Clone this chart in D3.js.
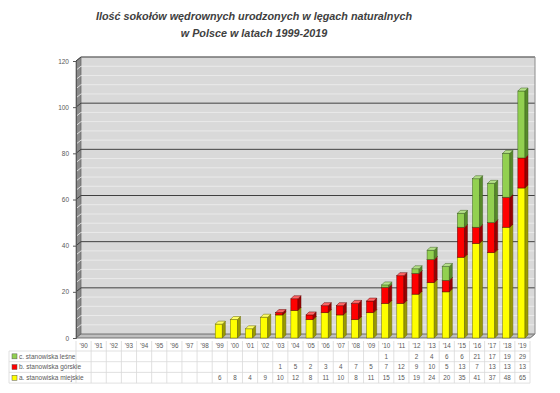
<!DOCTYPE html>
<html><head><meta charset="utf-8">
<script src="https://cdn.jsdelivr.net/npm/d3@7"></script>
<style>body{margin:0;background:#fff}svg{display:block}</style>
</head><body>
<svg id="c" width="560" height="393"></svg>
<script>
const years = ["'90","'91","'92","'93","'94","'95","'96","'97","'98","'99","'00","'01","'02","'03","'04","'05","'06","'07","'08","'09","'10","'11","'12","'13","'14","'15","'16","'17","'18","'19"];
const miejskie = [null,null,null,null,null,null,null,null,null,6,8,4,9,10,12,8,11,10,8,11,15,15,19,24,20,35,41,37,48,65];
const gorskie  = [null,null,null,null,null,null,null,null,null,null,null,null,null,1,5,2,3,4,7,5,7,12,9,10,5,13,7,13,13,13];
const lesne    = [null,null,null,null,null,null,null,null,null,null,null,null,null,null,null,null,null,null,null,null,1,null,2,4,6,6,21,17,19,29];
const yTicks = [0,20,40,60,80,100,120];
const seriesNames = ["a. stanowiska miejskie","b. stanowiska górskie","c. stanowiska leśne"];
const titleLines = ["Ilość sokołów wędrownych urodzonych w lęgach naturalnych","w Polsce w latach 1999-2019"];

const series = [
  {name: seriesNames[0], values: miejskie, front:"#ffff00", side:"#9a9a00", top:"#ffff66", stroke:"#6b6b00"},
  {name: seriesNames[1], values: gorskie,  front:"#ff0000", side:"#9a0000", top:"#ff6666", stroke:"#600000"},
  {name: seriesNames[2], values: lesne,    front:"#92d050", side:"#578a2a", top:"#b5e08a", stroke:"#3d6020"}
];

const svg = d3.select("#c");
const x0 = 76, x1 = 530;
const x = d3.scaleBand().domain(years).range([x0, x1]);
const y = d3.scaleLinear().domain([0,120]).range([338, 61]);
const BX = 5, BY = -4; // back wall offset
const D = 3; // bar depth

// title
svg.append("g").selectAll("text").data(titleLines).join("text")
  .attr("x", 254).attr("y", (d,i)=>20 + i*17)
  .attr("text-anchor","middle")
  .attr("font-family","Liberation Sans, Arial, sans-serif")
  .attr("font-size", 10.8).attr("font-weight","bold").attr("font-style","italic")
  .attr("fill","#404040").text(d=>d);

// back wall
const g = svg.append("g");
g.append("rect").attr("x", x0+BX).attr("y", y(120)+BY).attr("width", x1-x0).attr("height", y(0)-y(120))
  .attr("fill","#d9d9d9");
// side wall
g.append("path").attr("d", `M${x0},${y(0)}L${x0+BX},${y(0)+BY}L${x0+BX},${y(120)+BY}L${x0},${y(120)}Z`)
  .attr("fill","#8a8a8a").attr("stroke","#606060").attr("stroke-width",0.7);
// floor
g.append("path").attr("d", `M${x0},${y(0)}L${x1},${y(0)}L${x1+BX},${y(0)+BY}L${x0+BX},${y(0)+BY}Z`)
  .attr("fill","#bfbfbf").attr("stroke","#595959").attr("stroke-width",0.8);

const minor = d3.range(0,121,4).filter(v=>v%20!==0);
g.append("g").selectAll("path").data(minor).join("path")
  .attr("d", v=>`M${x0},${y(v)}L${x0+BX},${y(v)+BY}L${x1+BX},${y(v)+BY}`)
  .attr("fill","none").attr("stroke","#efefef").attr("stroke-width",0.8);
g.append("g").selectAll("path").data(yTicks.filter(v=>v>0)).join("path")
  .attr("d", v=>`M${x0},${y(v)}L${x0+BX},${y(v)+BY}L${x1+BX},${y(v)+BY}`)
  .attr("fill","none").attr("stroke","#404040").attr("stroke-width",1);
// back wall border
g.append("path").attr("d", `M${x0+BX},${y(120)+BY}L${x1+BX},${y(120)+BY}L${x1+BX},${y(0)+BY}L${x1},${y(0)}`)
  .attr("fill","none").attr("stroke","#8c8c8c").attr("stroke-width",1);

// y axis
const yAxis = d3.axisLeft(y).tickValues(yTicks).tickSize(3).tickPadding(4);
const ya = svg.append("g").attr("transform",`translate(${x0},0)`).call(yAxis);
ya.select(".domain").attr("stroke","#595959");
ya.selectAll(".tick line").attr("stroke","#595959");
ya.selectAll("text").attr("font-family","Liberation Sans, Arial, sans-serif").attr("font-size",6.5).attr("fill","#595959");

// bars
const bw = x.bandwidth()*0.47;
const barsG = svg.append("g");
years.forEach((yr,i)=>{
  let base = 0;
  series.forEach(s=>{
    const v = s.values[i];
    if (v == null) return;
    const top = base + v;
    const xl = x(yr) + (x.bandwidth()-bw)/2 - 1;
    const yb = y(base), yt = y(top);
    const bg = barsG.append("g");
    bg.append("rect").attr("x", xl).attr("y", yt).attr("width", bw).attr("height", yb-yt)
      .attr("fill", s.front).attr("stroke", s.stroke).attr("stroke-width",0.5);
    bg.append("path").attr("d", `M${xl+bw},${yb}L${xl+bw+D},${yb-D}L${xl+bw+D},${yt-D}L${xl+bw},${yt}Z`)
      .attr("fill", s.side).attr("stroke", s.stroke).attr("stroke-width",0.5);
    bg.append("path").attr("d", `M${xl},${yt}L${xl+bw},${yt}L${xl+bw+D},${yt-D}L${xl+D},${yt-D}Z`)
      .attr("fill", s.top).attr("stroke", s.stroke).attr("stroke-width",0.5);
    base = top;
  });
});

// data table
const tbl = svg.append("g");
const rowTop = 341, hdrH = 10, rowH = 10.7;
const rows = [series[2], series[1], series[0]];
const tableBottom = rowTop + hdrH + rowH*3;
const legX = 9;
tbl.append("g").selectAll("line").data(d3.range(years.length+1)).join("line")
  .attr("x1", i=> x0 + i*x.bandwidth()).attr("x2", i=> x0 + i*x.bandwidth())
  .attr("y1", rowTop).attr("y2", tableBottom)
  .attr("stroke","#d9d9d9").attr("stroke-width",0.8);
tbl.append("line").attr("x1", legX).attr("x2", legX).attr("y1", rowTop+hdrH).attr("y2", tableBottom)
  .attr("stroke","#d9d9d9").attr("stroke-width",0.8);
tbl.append("g").selectAll("line").data(d3.range(4)).join("line")
  .attr("x1", legX).attr("x2", x1)
  .attr("y1", i=> rowTop+hdrH+i*rowH).attr("y2", i=> rowTop+hdrH+i*rowH)
  .attr("stroke","#d9d9d9").attr("stroke-width",0.8);
const tf = "Liberation Sans, Arial, sans-serif";
tbl.append("g").selectAll("text").data(years).join("text")
  .attr("x", d=>x(d)+x.bandwidth()/2).attr("y", rowTop+hdrH/2+2.2)
  .attr("text-anchor","middle").attr("font-family",tf).attr("font-size",6.3).attr("fill","#595959").text(d=>d);
rows.forEach((s,r)=>{
  const cy = rowTop+hdrH+r*rowH+rowH/2;
  tbl.append("rect").attr("x", legX+3).attr("y", cy-2.5).attr("width",5).attr("height",5)
    .attr("fill", s.front).attr("stroke","#595959").attr("stroke-width",0.5);
  tbl.append("text").attr("x", legX+10).attr("y", cy+2.2).attr("font-family",tf).attr("font-size",6.5)
    .attr("fill","#595959").text(s.name);
  tbl.append("g").selectAll("text").data(s.values.map((v,i)=>({v,yr:years[i]})).filter(d=>d.v!=null)).join("text")
    .attr("x", d=>x(d.yr)+x.bandwidth()/2).attr("y", cy+2.2)
    .attr("text-anchor","middle").attr("font-family",tf).attr("font-size",6.3).attr("fill","#595959").text(d=>d.v);
});
</script>
</body></html>
